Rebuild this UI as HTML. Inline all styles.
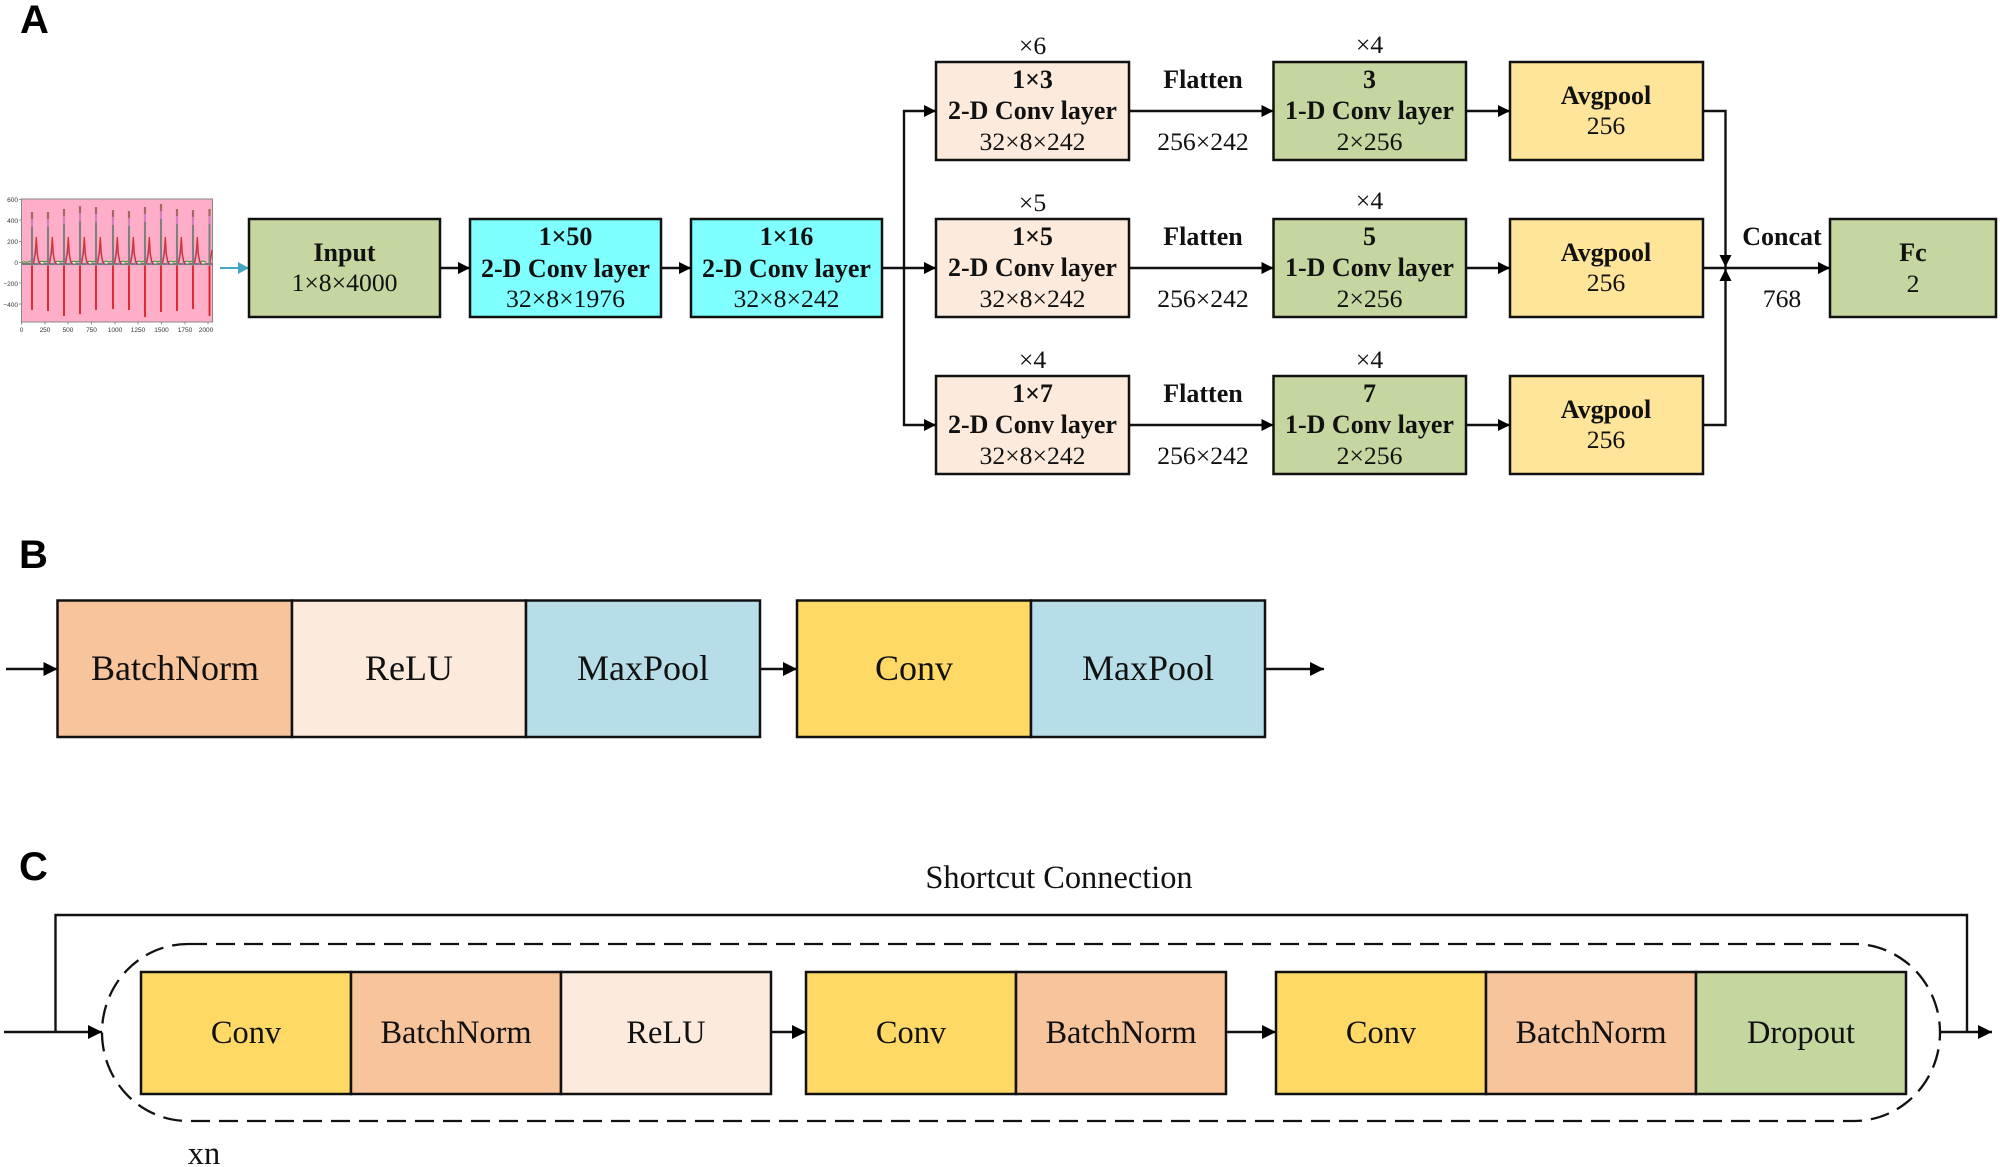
<!DOCTYPE html>
<html>
<head>
<meta charset="utf-8">
<style>
html,body{margin:0;padding:0;background:#fff}
svg{display:block}
text{font-family:"Liberation Serif",serif;fill:#111;text-anchor:middle}
.b{font-weight:bold;font-size:26px}
.r{font-size:25.7px}
.l{font-family:"Liberation Sans",sans-serif;font-weight:bold;font-size:40px;text-anchor:start;fill:#000}
.tick{font-family:"Liberation Sans",sans-serif;font-size:6.5px;fill:#333}
.big{font-size:36px}
.mid{font-size:32.4px}
.box{stroke:#111;stroke-width:2.5}
.line{stroke:#111;stroke-width:2.4;fill:none}
</style>
</head>
<body>
<svg width="2000" height="1167" viewBox="0 0 2000 1167" xmlns="http://www.w3.org/2000/svg">
<defs>
<marker id="a" markerUnits="userSpaceOnUse" markerWidth="13" markerHeight="13" refX="12" refY="6.5" orient="auto"><path d="M0,0.5 L12,6.5 L0,12.5 Z" fill="#000"/></marker>
<marker id="c" markerUnits="userSpaceOnUse" markerWidth="15" markerHeight="15" refX="14" refY="7.500" orient="auto"><path d="M0,0.500 L14,7.500 L0,14.500 Z" fill="#000"/></marker>
<g id="beat" fill="none">
<path d="M-4,264 H13" stroke="#777" stroke-width="2"/>
<path d="M-4,262 l3,-1 l3,1 M7,262 l3,-1 l3,1" stroke="#2aa02a" stroke-width="1"/>
<path d="M1,265 L4,247 L7,265" stroke="#9484c8" stroke-width="1.600"/>
<path d="M1,264 Q3,260 3.600,248 L4.300,237 L5,248 Q5.600,260 8,264" stroke="#d63030" stroke-width="1.300"/>
<path d="M9,263 h2.500" stroke="#ffffff" stroke-width="1"/>
</g>
</defs>

<text class="l" x="20" y="33">A</text>
<text class="l" x="19" y="568">B</text>
<text class="l" x="19" y="880">C</text>

<!-- ECG chart -->
<rect x="21.500" y="199" width="191" height="123" fill="#ffaec9" stroke="#888" stroke-width="1"/>
<g stroke="#777" stroke-width="0.800">
<path d="M19,199.500h2.500M19,220h2.500M19,241.500h2.500M19,262.500h2.500M19,283h2.500M19,304h2.500M21.500,322v2.500M45,322v2.500M68,322v2.500M91.500,322v2.500M115,322v2.500M138,322v2.500M161.500,322v2.500M185,322v2.500M208,322v2.500"/>
</g>
<g>
<text class="tick" x="18" y="202" style="text-anchor:end">600</text>
<text class="tick" x="18" y="223" style="text-anchor:end">400</text>
<text class="tick" x="18" y="244" style="text-anchor:end">200</text>
<text class="tick" x="18" y="265" style="text-anchor:end">0</text>
<text class="tick" x="18" y="286" style="text-anchor:end">−200</text>
<text class="tick" x="18" y="307" style="text-anchor:end">−400</text>
<text class="tick" x="21.500" y="332">0</text>
<text class="tick" x="45" y="332">250</text>
<text class="tick" x="68" y="332">500</text>
<text class="tick" x="91.500" y="332">750</text>
<text class="tick" x="115" y="332">1000</text>
<text class="tick" x="138" y="332">1250</text>
<text class="tick" x="161.500" y="332">1500</text>
<text class="tick" x="185" y="332">1750</text>
<text class="tick" x="206" y="332">2000</text>
</g>
<path d="M22,264 H28" stroke="#777" stroke-width="2" fill="none"/>
<path d="M22,262 H28" stroke="#2aa02a" stroke-width="1" fill="none"/>
<use href="#beat" x="32"/><use href="#beat" x="48"/><use href="#beat" x="64"/><use href="#beat" x="80"/><use href="#beat" x="96"/><use href="#beat" x="113"/><use href="#beat" x="129"/><use href="#beat" x="145"/><use href="#beat" x="161"/><use href="#beat" x="177"/><use href="#beat" x="193"/>
<g clip-path="none"><path d="M205,264 H212" stroke="#777" stroke-width="2"/><path d="M210,264 L212,250" stroke="#d63030" stroke-width="1.300"/></g>
<g fill="none">
<path stroke="#d62020" stroke-width="1.800" d="M32,266V310M48,266V311M64,266V316M80,266V314M96,266V310M113,266V309M129,266V310M145,266V317M161,266V312M177,266V311M193,266V309M209.500,266V316"/>
<path stroke="#808080" stroke-width="2.100" d="M32,266V212M48,266V212M64,266V209M80,266V206M96,266V207M113,266V210M129,266V211M145,266V207M161,266V204M177,266V209M193,266V210M209.500,266V209"/>
<path stroke="#a06a60" stroke-width="2.100" d="M32,212v7M48,212v7M64,209v7M80,206v7M96,207v7M113,210v7M129,211v7M145,207v7M161,204v7M177,209v7M193,210v7M209.500,209v7"/>
<path stroke="#d47fc0" stroke-width="2.100" d="M32,219v8M48,219v8M64,216v8M80,213v8M96,214v8M113,217v8M129,218v8M145,214v8M161,211v8M177,216v8M193,217v8M209.500,216v8"/>
</g>
<path d="M220,268 H249" stroke="#45a5c5" stroke-width="2"/>
<path d="M238,262 L249,268 L238,274 Z" fill="#45a5c5"/>

<!-- A: main pipeline boxes -->
<rect class="box" x="249" y="219" width="191" height="98" fill="#c5d6a0"/>
<rect class="box" x="470" y="219" width="191" height="98" fill="#7fffff"/>
<rect class="box" x="691" y="219" width="191" height="98" fill="#7fffff"/>
<text class="b" x="344.500" y="261">Input</text><text class="r" x="344.500" y="291">1×8×4000</text>
<text class="b" x="565.500" y="245">1×50</text><text class="b" x="565.500" y="277">2-D Conv layer</text><text class="r" x="565.500" y="307">32×8×1976</text>
<text class="b" x="786.500" y="245">1×16</text><text class="b" x="786.500" y="277">2-D Conv layer</text><text class="r" x="786.500" y="307">32×8×242</text>

<path class="line" marker-end="url(#a)" d="M440,268H470"/>
<path class="line" marker-end="url(#a)" d="M661,268H691"/>
<path class="line" marker-end="url(#a)" d="M882,268H936"/>
<path class="line" marker-end="url(#a)" d="M904,268V111H936"/>
<path class="line" marker-end="url(#a)" d="M904,268V425H936"/>

<!-- rows -->
<g>
<rect class="box" x="936" y="62" width="193" height="98" fill="#fcebdc"/>
<rect class="box" x="1273.500" y="62" width="192.500" height="98" fill="#c5d6a0"/>
<rect class="box" x="1510" y="62" width="193" height="98" fill="#fee599"/>
<text class="r" x="1032.500" y="54">×6</text><text class="r" x="1369.500" y="53">×4</text>
<text class="b" x="1032.500" y="88">1×3</text><text class="b" x="1032.500" y="119">2-D Conv layer</text><text class="r" x="1032.500" y="150">32×8×242</text>
<text class="b" x="1203" y="88">Flatten</text><text class="r" x="1203" y="150">256×242</text>
<text class="b" x="1369.500" y="88">3</text><text class="b" x="1369.500" y="119">1-D Conv layer</text><text class="r" x="1369.500" y="150">2×256</text>
<text class="b" x="1606" y="104">Avgpool</text><text class="r" x="1606" y="134">256</text>
<path class="line" marker-end="url(#a)" d="M1129,111H1273.500"/>
<path class="line" marker-end="url(#a)" d="M1466,111H1510"/>
</g>
<g>
<rect class="box" x="936" y="219" width="193" height="98" fill="#fcebdc"/>
<rect class="box" x="1273.500" y="219" width="192.500" height="98" fill="#c5d6a0"/>
<rect class="box" x="1510" y="219" width="193" height="98" fill="#fee599"/>
<text class="r" x="1032.500" y="211">×5</text><text class="r" x="1369.500" y="209">×4</text>
<text class="b" x="1032.500" y="245">1×5</text><text class="b" x="1032.500" y="276">2-D Conv layer</text><text class="r" x="1032.500" y="307">32×8×242</text>
<text class="b" x="1203" y="245">Flatten</text><text class="r" x="1203" y="307">256×242</text>
<text class="b" x="1369.500" y="245">5</text><text class="b" x="1369.500" y="276">1-D Conv layer</text><text class="r" x="1369.500" y="307">2×256</text>
<text class="b" x="1606" y="261">Avgpool</text><text class="r" x="1606" y="291">256</text>
<path class="line" marker-end="url(#a)" d="M1129,268H1273.500"/>
<path class="line" marker-end="url(#a)" d="M1466,268H1510"/>
</g>
<g>
<rect class="box" x="936" y="376" width="193" height="98" fill="#fcebdc"/>
<rect class="box" x="1273.500" y="376" width="192.500" height="98" fill="#c5d6a0"/>
<rect class="box" x="1510" y="376" width="193" height="98" fill="#fee599"/>
<text class="r" x="1032.500" y="368">×4</text><text class="r" x="1369.500" y="368">×4</text>
<text class="b" x="1032.500" y="402">1×7</text><text class="b" x="1032.500" y="433">2-D Conv layer</text><text class="r" x="1032.500" y="464">32×8×242</text>
<text class="b" x="1203" y="402">Flatten</text><text class="r" x="1203" y="464">256×242</text>
<text class="b" x="1369.500" y="402">7</text><text class="b" x="1369.500" y="433">1-D Conv layer</text><text class="r" x="1369.500" y="464">2×256</text>
<text class="b" x="1606" y="418">Avgpool</text><text class="r" x="1606" y="448">256</text>
<path class="line" marker-end="url(#a)" d="M1129,425H1273.500"/>
<path class="line" marker-end="url(#a)" d="M1466,425H1510"/>
</g>

<!-- concat -->
<path class="line" marker-end="url(#a)" d="M1703,111H1725.500V267"/>
<path class="line" marker-end="url(#a)" d="M1703,425H1725.500V269"/>
<path class="line" marker-end="url(#a)" d="M1703,268H1830"/>
<rect class="box" x="1830" y="219" width="166" height="98" fill="#c5d6a0"/>
<text class="b" x="1782" y="245">Concat</text><text class="r" x="1782" y="307">768</text>
<text class="b" x="1913" y="261">Fc</text><text class="r" x="1913" y="292">2</text>

<!-- B -->
<path class="line" marker-end="url(#c)" d="M6,669H57.500"/>
<rect class="box" x="57.500" y="600.500" width="234.500" height="136.500" fill="#f8c49b"/>
<rect class="box" x="292" y="600.500" width="234" height="136.500" fill="#fcebdc"/>
<rect class="box" x="526" y="600.500" width="234" height="136.500" fill="#b7dde8"/>
<path class="line" marker-end="url(#c)" d="M760,669H797"/>
<rect class="box" x="797" y="600.500" width="234" height="136.500" fill="#ffd966"/>
<rect class="box" x="1031" y="600.500" width="234" height="136.500" fill="#b7dde8"/>
<path class="line" marker-end="url(#c)" d="M1265,669H1324"/>
<text class="big" x="175" y="680">BatchNorm</text>
<text class="big" x="409" y="680">ReLU</text>
<text class="big" x="643" y="680">MaxPool</text>
<text class="big" x="914" y="680">Conv</text>
<text class="big" x="1148" y="680">MaxPool</text>

<!-- C -->
<text class="mid" x="1059" y="888">Shortcut Connection</text>
<path class="line" d="M55.500,1032V915H1967V1032"/>
<rect x="102" y="944" width="1838" height="177" rx="86" ry="88.500" fill="none" stroke="#111" stroke-width="2.300" stroke-dasharray="19 9"/>
<path class="line" marker-end="url(#c)" d="M4,1032H102"/>
<path class="line" marker-end="url(#c)" d="M1940,1032H1992"/>

<rect class="box" x="141" y="972" width="210" height="122" fill="#ffd966"/>
<rect class="box" x="351" y="972" width="210" height="122" fill="#f8c49b"/>
<rect class="box" x="561" y="972" width="210" height="122" fill="#fcebdc"/>
<path class="line" marker-end="url(#c)" d="M771,1032H806"/>
<rect class="box" x="806" y="972" width="210" height="122" fill="#ffd966"/>
<rect class="box" x="1016" y="972" width="210" height="122" fill="#f8c49b"/>
<path class="line" marker-end="url(#c)" d="M1226,1032H1276"/>
<rect class="box" x="1276" y="972" width="210" height="122" fill="#ffd966"/>
<rect class="box" x="1486" y="972" width="210" height="122" fill="#f8c49b"/>
<rect class="box" x="1696" y="972" width="210" height="122" fill="#c4d79e"/>
<text class="mid" x="246" y="1043">Conv</text>
<text class="mid" x="456" y="1043">BatchNorm</text>
<text class="mid" x="666" y="1043">ReLU</text>
<text class="mid" x="911" y="1043">Conv</text>
<text class="mid" x="1121" y="1043">BatchNorm</text>
<text class="mid" x="1381" y="1043">Conv</text>
<text class="mid" x="1591" y="1043">BatchNorm</text>
<text class="mid" x="1801" y="1043">Dropout</text>
<text class="mid" x="204" y="1164">xn</text>
</svg>
</body>
</html>
